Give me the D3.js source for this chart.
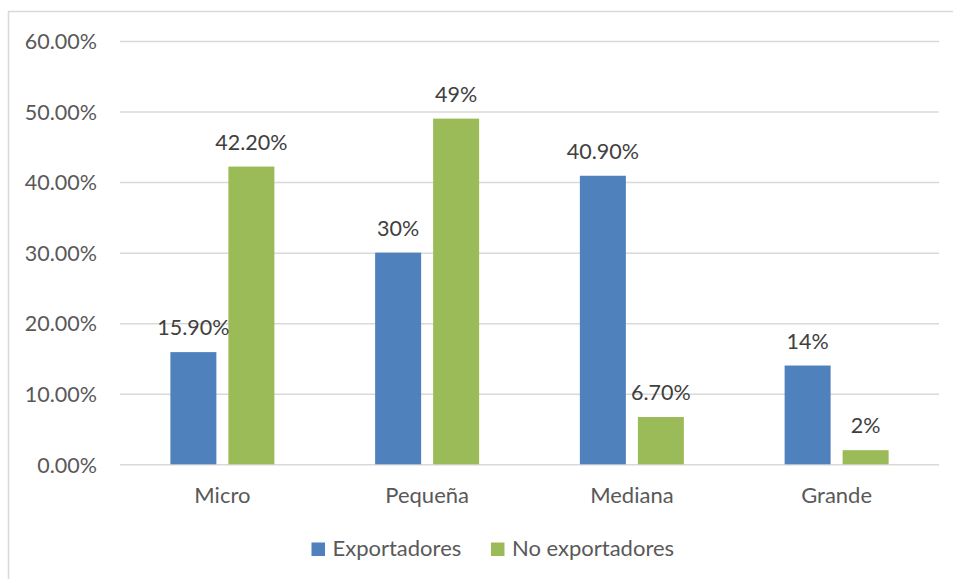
<!DOCTYPE html>
<html>
<head>
<meta charset="utf-8">
<script src="https://cdn.jsdelivr.net/npm/d3@7"></script>
<style>
  html, body { margin: 0; padding: 0; background: #fff; }
  svg { display: block; }
  text { font-family: Lato, "Open Sans", sans-serif; }
</style>
</head>
<body>
<svg id="chart" width="953" height="579"></svg>
<script>
// Company size categories
const categories = ["Micro", "Pequeña", "Mediana", "Grande"];
// Series names
const seriesNames = ["Exportadores", "No exportadores"];
// Share of firms (%) per category
const exportadores = [15.9, 30, 40.9, 14];
const noExportadores = [42.2, 49, 6.7, 2];
// Y axis ticks (%)
const yTicks = [0, 10, 20, 30, 40, 50, 60];
const colors = ["#4F81BD", "#9BBB59"];

const svg = d3.select("#chart");
const plot = { left: 120, right: 939, top: 41, bottom: 464.3 };

// Outer frame
svg.append("rect")
  .attr("x", 8.5).attr("y", 11.5)
  .attr("width", 1000).attr("height", 700)
  .attr("fill", "none").attr("stroke", "#D9D9D9").attr("stroke-width", 1.5);

const y = d3.scaleLinear().domain([0, 60]).range([plot.bottom, plot.top]);
const x0 = d3.scaleBand().domain(categories).range([plot.left, plot.right]).padding(0);
const groupW = 104;
const x1 = d3.scaleBand().domain(seriesNames).range([0, groupW]).paddingInner(12 / 58).paddingOuter(0);

// Gridlines and tick labels
const yAxis = d3.axisLeft(y).tickValues(yTicks)
  .tickSize(-(plot.right - plot.left))
  .tickPadding(23)
  .tickFormat(d => d3.format(".2f")(d) + "%");

const gAxis = svg.append("g")
  .attr("transform", `translate(${plot.left},0)`)
  .call(yAxis);
gAxis.select(".domain").remove();
gAxis.selectAll(".tick line").attr("stroke", "#D9D9D9").attr("stroke-width", 1.5);
gAxis.selectAll(".tick text")
  .attr("fill", "#595959")
  .attr("font-size", 21.5)
  .attr("dy", "0.36em");

// Bars
const rows = categories.map((c, i) => ({
  cat: c,
  vals: [
    { s: seriesNames[0], v: exportadores[i], color: colors[0] },
    { s: seriesNames[1], v: noExportadores[i], color: colors[1] }
  ]
}));

const groups = svg.append("g").selectAll("g")
  .data(rows).join("g")
  .attr("transform", d => `translate(${x0(d.cat) + x0.bandwidth() / 2 - groupW / 2},0)`);

groups.selectAll("rect")
  .data(d => d.vals).join("rect")
  .attr("x", d => x1(d.s))
  .attr("y", d => y(d.v))
  .attr("width", x1.bandwidth())
  .attr("height", d => y(0) - y(d.v))
  .attr("fill", d => d.color);

const fmtLabel = v => Number.isInteger(v) ? d3.format(".0f")(v) + "%" : d3.format(".2f")(v) + "%";

groups.selectAll("text.val")
  .data(d => d.vals).join("text")
  .attr("class", "val")
  .attr("x", d => x1(d.s) + x1.bandwidth() / 2)
  .attr("y", d => y(d.v) - 17)
  .attr("text-anchor", "middle")
  .attr("font-size", 21.5)
  .attr("fill", "#404040")
  .text(d => fmtLabel(d.v));

// Category axis labels
const xAxis = d3.axisBottom(x0).tickSize(0).tickPadding(0);
const gx = svg.append("g").attr("transform", `translate(0,${plot.bottom})`).call(xAxis);
gx.select(".domain").remove();
gx.selectAll(".tick text")
  .attr("fill", "#595959")
  .attr("font-size", 22)
  .attr("dy", null)
  .attr("y", 39);

// Legend
const legendX = [311.5, 491];
const legend = svg.append("g").selectAll("g")
  .data(seriesNames).join("g")
  .attr("transform", (d, i) => `translate(${legendX[i]},542.5)`);
legend.append("rect")
  .attr("width", 13.5).attr("height", 13.5)
  .attr("fill", (d, i) => colors[i]);
legend.append("text")
  .attr("x", 21).attr("y", 13.5)
  .attr("font-size", 22)
  .attr("fill", "#595959")
  .text(d => d);
</script>
</body>
</html>
